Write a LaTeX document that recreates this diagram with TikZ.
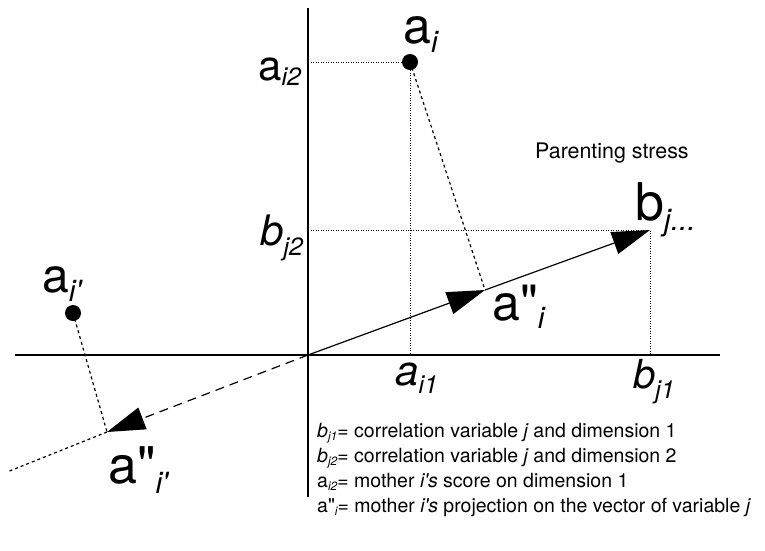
\documentclass[tikz,border=0pt]{standalone}
\usepackage{fontspec}
\newfontfamily\hv{TeX Gyre Heros}
\usetikzlibrary{arrows.meta}
\newcommand\sbx[3]{\raisebox{-#1pt}{\fontsize{#2}{#2}\selectfont\itshape #3}}
\newcommand\fs[1]{\fontsize{#1}{#1}\selectfont}
\tikzset{
  axisline/.style={line width=1.4pt},
  guide/.style={line width=1pt, dash pattern=on 1pt off 1.5pt},
  proj/.style={line width=1.2pt, dash pattern=on 3pt off 3pt},
  vec/.style={line width=1.2pt, -{Triangle[length=38pt,width=23pt]}},
  lbl/.style={inner sep=0pt, anchor=base west, font=\hv},
  legend/.style={inner sep=0pt, anchor=base west, font=\hv\fs{19.5}},
  dot/.style={circle, fill, inner sep=0pt, minimum size=16pt},
}
\begin{document}
\begin{tikzpicture}[x=1pt,y=-1pt]
\useasboundingbox (0,0) rectangle (765,550);
\coordinate (O) at (308,355);
\coordinate (xl) at (15,355);
\coordinate (xr) at (720,355);
\coordinate (yt) at (308,8);
\coordinate (yb) at (308,497);
\coordinate (ai) at (410,62);
\coordinate (aip) at (73,313);
\coordinate (bj) at (650,230);
\coordinate (api) at (485,290);
\coordinate (apip) at (107,432);
\coordinate (far) at (7,472);
\coordinate (ai2) at (308,62);
\coordinate (ai1) at (410,355);
\coordinate (bj2) at (308,230);
\coordinate (bj1) at (650,355);
% axes
\draw[axisline] (xl) -- (xr);
\draw[axisline] (yt) -- (yb);
% guides
\draw[guide] (ai2) -- (ai) -- (ai1);
\draw[guide] (bj2) -- (bj) -- (bj1);
% projections
\draw[proj] (ai) -- (api);
\draw[proj] (aip) -- (apip);
% vectors
\draw[vec] (O) -- (api);
\draw[vec] (api) -- (bj);
\draw[vec, dash pattern=on 9pt off 6pt] (O) -- (apip);
\draw[proj] (apip) -- (far);
% dots
\node[dot] (aidot) at (ai) {};
\node[dot] (aipdot) at (aip) {};
% point labels
\node[lbl] (Lai) at (403,43) {\fs{50}a\sbx{9}{30}{i}};
\node[lbl] (Lbj) at (635,220) {\fs{52}b\sbx{10}{30}{j...}};
\node[lbl] (Lapi) at (492,320) {\fs{50}a"\sbx{8}{30}{i}};
\node[lbl] (Laip) at (42,292) {\fs{48}a\sbx{9}{30}{i'}};
\node[lbl] (Lapip) at (108,483) {\fs{52}a"\sbx{10}{30}{i'}};
\node[lbl] (Lps) at (535,158) {\fs{21.4}Parenting stress};
% axis labels
\node[lbl] (Lai2) at (258,80) {\fs{42}a\sbx{5}{25}{i2}};
\node[lbl] (Lbj2) at (260,245) {\fs{42}\itshape b\sbx{10}{25}{j2}};
\node[lbl] (Lai1) at (395,385) {\fs{42}\itshape a\sbx{8}{25}{i1}};
\node[lbl] (Lbj1) at (633,388) {\fs{40}\itshape b\sbx{10}{25}{j1}};
% legend
\node[legend] (g1) at (317,437) {{\itshape b}\sbx{3}{12}{j1}= correlation variable {\itshape j} and dimension 1};
\node[legend] (g2) at (317,462) {{\itshape b}\sbx{3}{12}{j2}= correlation variable {\itshape j} and dimension 2};
\node[legend] (g3) at (317,487) {a\sbx{3}{12}{i2}= mother {\itshape i's} score on dimension 1};
\node[legend] (g4) at (317,512) {a"\sbx{3}{12}{i}= mother {\itshape i's} projection on the vector of variable {\itshape j}};
\end{tikzpicture}
\end{document}
